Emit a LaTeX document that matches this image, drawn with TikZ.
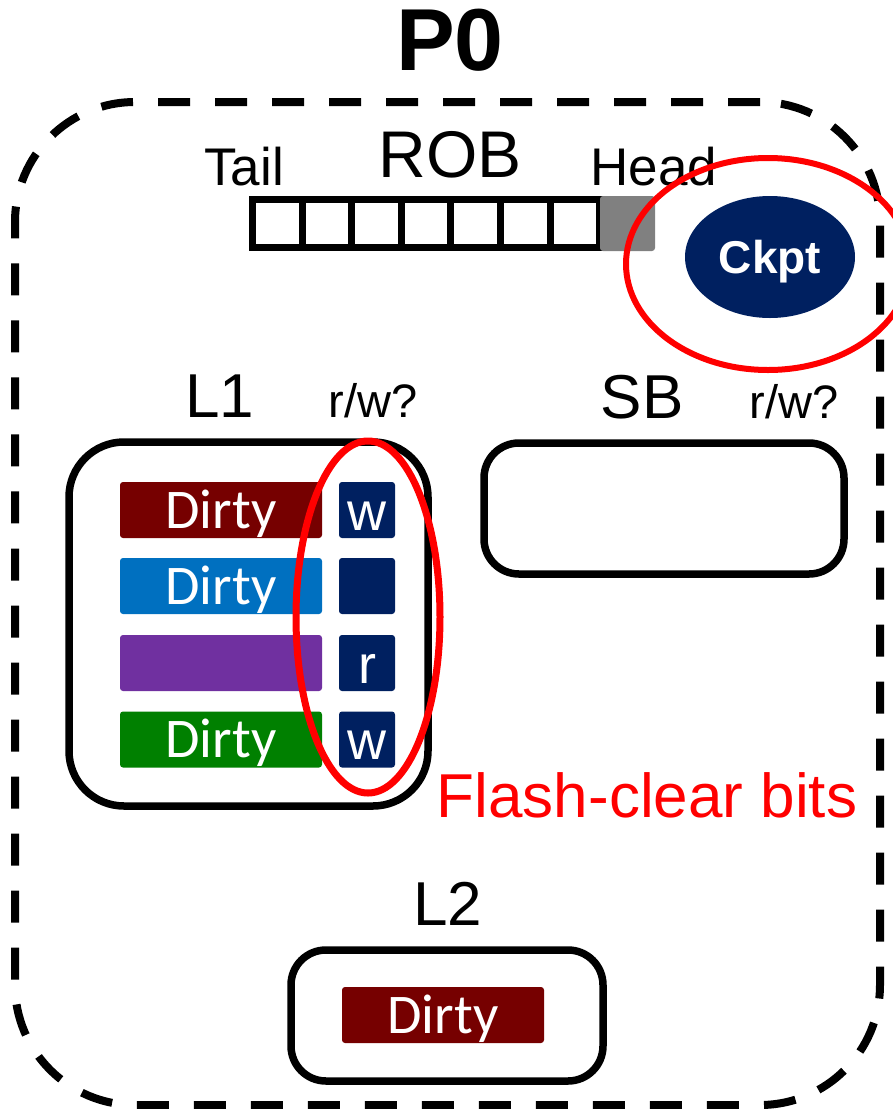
\documentclass[tikz,border=0pt]{standalone}
\usepackage{fontspec}
\setmainfont{Liberation Sans}
\newfontfamily\calib{Carlito}
\usetikzlibrary{shapes.geometric}
\definecolor{navy}{HTML}{002060}
\definecolor{dred}{HTML}{760000}
\definecolor{mblue}{HTML}{0070C0}
\definecolor{mpurple}{HTML}{7030A0}
\definecolor{mgreen}{HTML}{008000}
\definecolor{robgray}{HTML}{808080}
\newcommand\myfs[1]{\fontsize{#1}{#1}\selectfont}
\begin{document}
\begin{tikzpicture}[x=1pt,y=-1pt,
  lbl/.style={anchor=base,inner sep=0pt,font=\myfs{62pt}},
  cachebox/.style={draw,line width=7.5pt,rounded corners=#1,inner sep=0pt},
  bar/.style={fill=#1,rounded corners=3pt,minimum width=202pt,minimum height=56pt,inner sep=0pt,
    text=white,font=\calib\myfs{56pt},text height=36pt,text depth=0pt},
  bitbox/.style={fill=navy,rounded corners=3pt,minimum width=56pt,minimum height=56pt,inner sep=0pt,
    text=white,font=\myfs{54pt},text height=40pt,text depth=0pt},
  robcell/.style={draw,line width=7pt,minimum width=49.6pt,minimum height=48pt,inner sep=0pt},
  ring/.style={ellipse,draw=red,line width=#1,inner sep=0pt}
]
\useasboundingbox (0,0) rectangle (893,1109);
\clip (0,0) rectangle (893,1109);
\fill[white] (0,0) rectangle (893,1109);

% outer dashed processor boundary
\node[draw,line width=8pt,dash pattern=on 32pt off 25pt,rounded corners=120pt,
  minimum width=865pt,minimum height=1003pt,inner sep=0pt] (proc) at (447.5,603.5) {};
\node[lbl,font=\bfseries\myfs{88pt}] (p0) at (450,70) {P0};

% ROB
\foreach \i in {0,...,6}{
  \node[robcell] (rob\i) at ({252.5+24.8+49.6*\i},223.5) {};
}
\node[fill=robgray,rounded corners=3pt,minimum width=55pt,minimum height=55pt,inner sep=0pt] (robhead) at (627.5,223.5) {};
\node[lbl,font=\myfs{66pt}] (robl) at (450,177) {ROB};
\node[lbl,font=\myfs{53pt}] (tail) at (244,185) {Tail};
\node[lbl,font=\myfs{53pt}] (head) at (654,185) {Head};

% checkpoint
\node[ellipse,fill=navy,minimum width=170pt,minimum height=122pt,inner sep=0pt,
  text=white,font=\bfseries\myfs{46pt},text height=33pt,text depth=0pt] (ckpt) at (770,257) {Ckpt};
\node[ring=6pt,minimum width=284pt,minimum height=212pt] (ckring) at (768,264) {};

% L1
\node[lbl] (l1l) at (220,417) {L1};
\node[lbl,font=\myfs{47pt}] (rw1) at (373,417) {r/w?};
\node[cachebox=55pt,minimum width=359pt,minimum height=364pt] (l1) at (248.5,624) {};
\node[bar=dred] (b1) at (221,510) {Dirty};
\node[bar=mblue] (b2) at (221,586) {Dirty};
\node[bar=mpurple] (b3) at (221,663) {};
\node[bar=mgreen] (b4) at (221,739.5) {Dirty};
\node[bitbox] (s1) at (367,510) {w};
\node[bitbox] (s2) at (367,586) {};
\node[bitbox] (s3) at (367,663) {r};
\node[bitbox] (s4) at (367,739.5) {w};
\node[ring=7pt,minimum width=144pt,minimum height=352pt] (bitring) at (368,617) {};
\node[lbl,text=red] (flash) at (647,817) {Flash-clear bits};

% SB
\node[lbl] (sbl) at (642,418) {SB};
\node[lbl,font=\myfs{47pt}] (rw2) at (794,418) {r/w?};
\node[cachebox=35pt,minimum width=360pt,minimum height=131pt] (sb) at (664,508.5) {};

% L2
\node[lbl] (l2l) at (448,925) {L2};
\node[cachebox=35pt,minimum width=312pt,minimum height=131pt] (l2) at (447,1015.5) {};
\node[bar=dred] (b5) at (443,1015) {Dirty};
\end{tikzpicture}
\end{document}
